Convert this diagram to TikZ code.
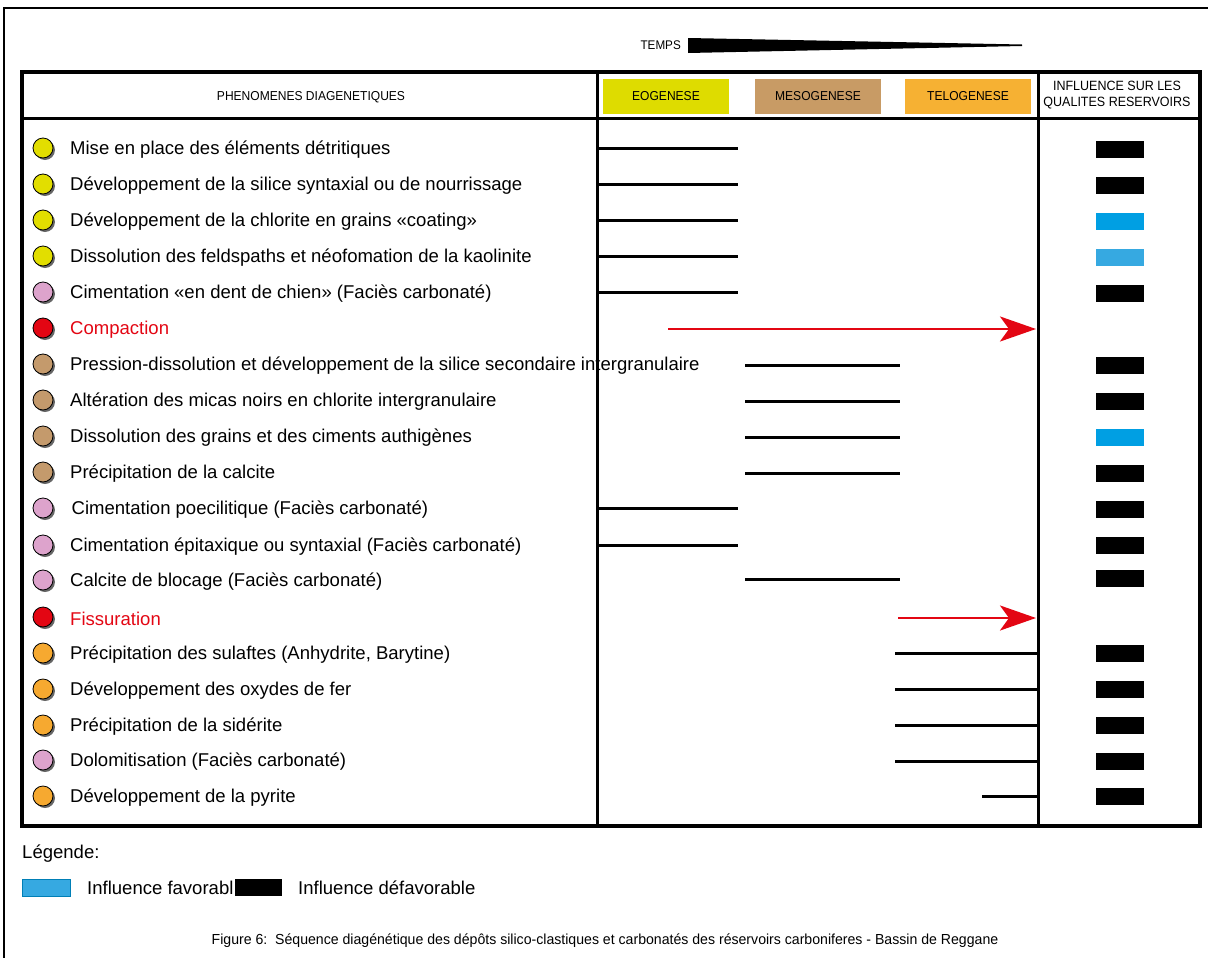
\documentclass[tikz,border=0pt]{standalone}
\usepackage{fontspec}
\setmainfont{Liberation Sans}
\newfontfamily\narrowfont{Liberation Sans}[FakeStretch=0.93]
\newfontfamily\capfont{Liberation Sans}[FakeStretch=0.97]
\usetikzlibrary{arrows.meta}
\definecolor{eoY}{HTML}{DEDC00}
\definecolor{mesoB}{HTML}{C89B65}
\definecolor{teloO}{HTML}{F6B133}
\definecolor{cY}{HTML}{E2DE00}
\definecolor{cP}{HTML}{DDA3CC}
\definecolor{cR}{HTML}{E30613}
\definecolor{cB}{HTML}{C49A6C}
\definecolor{cO}{HTML}{F6A930}
\definecolor{favA}{HTML}{009FE3}
\definecolor{favB}{HTML}{36A9E1}
\tikzset{
  dot/.style={circle,draw=black,line width=0.8bp,minimum size=20bp,inner sep=0pt},
  lab/.style={anchor=west,inner sep=0pt,font=\fontsize{18.6}{21}\selectfont},
  barbox/.style={rectangle,minimum width=48bp,minimum height=17bp,inner sep=0pt},
  tl/.style={line width=3bp,black},
  redarrow/.style={line width=2.8bp,cR,-{Stealth[length=36bp,width=25bp,inset=9bp]}},
  phase/.style={rectangle,minimum width=126bp,minimum height=35bp,inner sep=0pt,font=\narrowfont\fontsize{13}{15}\selectfont},
  frame/.style={line width=3.5bp},
  grid/.style={line width=3bp}
}
\newcommand{\phrow}[5]{%
  \fill[black!60] (45,{#2+2}) circle (10bp);
  \node[dot,fill=#3] (d#1) at (43,#2) {};
  \node[lab,text=#5] (t#1) at (70,{#2+1.5}) {#4};
}
\begin{document}
\begin{tikzpicture}[x=1bp,y=-1bp]
\useasboundingbox (0,0) rectangle (1208,958);
% outer frame
\draw[line width=2.5bp] (4,958) -- (4,8) -- (1208,8);
% temps
\node[anchor=east,inner sep=0pt,font=\narrowfont\fontsize{12.6}{14}\selectfont] (temps) at (681,45) {TEMPS};
\fill (688,38) -- (1022,44.5) -- (1022,46) -- (688,53) -- cycle;
% table
\draw[frame] (22,72) rectangle (1200,826);
\draw[grid] (22,118) -- (1200,118);
\draw[grid] (597,72) -- (597,826);
\draw[grid] (1038,72) -- (1038,826);
% header
\node[inner sep=0pt,font=\narrowfont\fontsize{13}{15}\selectfont] (hphen) at (311,97) {PHENOMENES DIAGENETIQUES};
\node[phase,fill=eoY] (eo) at (666,96) {EOGENESE};
\node[phase,fill=mesoB] (meso) at (818,96) {MESOGENESE};
\node[phase,fill=teloO] (telo) at (968,96) {TELOGENESE};
\node[inner sep=0pt,align=center,font=\narrowfont\fontsize{13.5}{15.5}\selectfont] (hinf) at (1117,95) {INFLUENCE SUR LES\\QUALITES RESERVOIRS};
% rows
\phrow{1}{148}{cY}{Mise en place des éléments détritiques}{black}
\phrow{2}{184}{cY}{Développement de la silice syntaxial ou de nourrissage}{black}
\phrow{3}{220}{cY}{Développement de la chlorite en grains «coating»}{black}
\phrow{4}{256}{cY}{Dissolution des feldspaths et néofomation de la kaolinite}{black}
\phrow{5}{292}{cP}{Cimentation «en dent de chien» (Faciès carbonaté)}{black}
\phrow{6}{328}{cR}{Compaction}{cR}
\phrow{7}{364}{cB}{Pression-dissolution et développement de la silice secondaire intergranulaire}{black}
\phrow{8}{400}{cB}{Altération des micas noirs en chlorite intergranulaire}{black}
\phrow{9}{436}{cB}{Dissolution des grains et des ciments authigènes}{black}
\phrow{10}{472}{cB}{Précipitation de la calcite}{black}
\phrow{11}{508}{cP}{\hspace{1.5bp}Cimentation poecilitique (Faciès carbonaté)}{black}
\phrow{12}{545}{cP}{Cimentation épitaxique ou syntaxial (Faciès carbonaté)}{black}
\phrow{13}{580}{cP}{Calcite de blocage (Faciès carbonaté)}{black}
\phrow{14}{617}{cR}{Fissuration}{cR}
\phrow{15}{653}{cO}{Précipitation des sulaftes (Anhydrite, Barytine)}{black}
\phrow{16}{689}{cO}{Développement des oxydes de fer}{black}
\phrow{17}{725}{cO}{Précipitation de la sidérite}{black}
\phrow{18}{760}{cP}{Dolomitisation (Faciès carbonaté)}{black}
\phrow{19}{796}{cO}{Développement de la pyrite}{black}
% redraw divider over row 7 text
\draw[grid] (597,340) -- (597,390);
% timelines
\foreach \y in {148,184,220,256,292,508,545} \draw[tl] (597,\y) -- (738,\y);
\foreach \y in {365,401,437,473,579} \draw[tl] (745,\y) -- (900,\y);
\foreach \y in {653,689,725,761} \draw[tl] (895,\y) -- (1038,\y);
\draw[tl] (982,796) -- (1038,796);
\coordinate (c6s) at (668,329);
\coordinate (c6e) at (1036,329);
\coordinate (c14s) at (898,618);
\coordinate (c14e) at (1036,618);
\draw[redarrow] (c6s) -- (c6e);
\draw[redarrow] (c14s) -- (c14e);
% influence bars
\foreach \n/\y/\c in {1/149/black,2/185/black,3/221/favA,4/257/favB,5/293/black,7/365/black,8/401/black,9/437/favA,10/473/black,11/509/black,12/545/black,13/578/black,15/653/black,16/689/black,17/725/black,18/761/black,19/796/black}
  \node[barbox,fill=\c] (bar\n) at (1119.5,\y) {};
% legend
\node[anchor=west,inner sep=0pt,font=\fontsize{18.6}{21}\selectfont] (leg) at (22,854) {Légende:};
\node[rectangle,fill=favB,draw=favA!80!black,line width=0.4bp,minimum width=48bp,minimum height=17bp,inner sep=0pt] (legfav) at (46,887.5) {};
\node[anchor=west,inner sep=0pt,font=\fontsize{18.6}{21}\selectfont] (legfavt) at (87,888) {Influence favorabl};
\node[rectangle,fill=black,minimum width=47bp,minimum height=17bp,inner sep=0pt] (legdef) at (258.5,887.5) {};
\node[anchor=west,inner sep=0pt,font=\fontsize{18.6}{21}\selectfont] (legdeft) at (298,888) {Influence défavorable};
% caption
\node[inner sep=0pt,font=\capfont\fontsize{14.6}{16}\selectfont] (cap) at (605,941) {Figure 6:\ \ Séquence diagénétique des dépôts silico-clastiques et carbonatés des réservoirs carboniferes - Bassin de Reggane};
\end{tikzpicture}
\end{document}
